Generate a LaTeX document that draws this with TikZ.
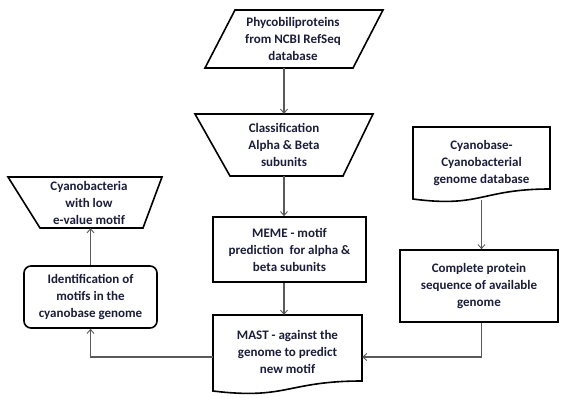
\documentclass[tikz,border=0pt]{standalone}
\usepackage{fontspec}
\setmainfont{Carlito}
\usetikzlibrary{arrows.meta,calc}
\definecolor{txtc}{HTML}{1B1E3A}
\definecolor{linec}{HTML}{5A5A5A}
\begin{document}
\begin{tikzpicture}[x=1pt,y=-1pt,
  lbl/.style={text=txtc, font=\bfseries\fontsize{13}{17}\selectfont, align=center, inner sep=0pt, rectangle},
  shp/.style={draw=black, line width=1.6pt, line join=miter},
  conn/.style={draw=linec, line width=1.1pt, -{Straight Barb[length=4pt,width=7pt,line width=0.9pt]}}
]
\fill[white] (0,0) rectangle (563,397);
\useasboundingbox (0,0) rectangle (563,397);

% Phycobiliproteins (parallelogram)
\draw[shp] (235,10) -- (383,10) -- (353,68) -- (205,68) -- cycle;
\node[lbl, minimum width=178pt, minimum height=58pt] (phy) at (293,39) {Phycobiliproteins\\from NCBI RefSeq\\database};

% Classification (trapezoid)
\draw[shp] (195,114) -- (373,114) -- (343,176) -- (230,176) -- cycle;
\node[lbl, minimum width=178pt, minimum height=62pt] (cls) at (284,145) {Classification\\Alpha \& Beta\\subunits};

% Cyanobacteria (trapezoid)
\draw[shp] (8,177) -- (162,177) -- (143,228) -- (40,228) -- cycle;
\node[lbl, minimum width=150pt, minimum height=51pt] (cyano) at (89,202.5) {Cyanobacteria\\with low\\e-value motif};

% Cyanobase (document)
\draw[shp] (413,127) -- (550,127) -- (550,189) .. controls (481,189) and (481,208) .. (413,199) -- cycle;
\node[lbl, minimum width=137pt, minimum height=73pt] (cyb) at (481.5,163.5) {Cyanobase-\\Cyanobacterial\\genome database};

% MEME
\node[lbl, shp, minimum width=153pt, minimum height=65pt] (meme) at (289.5,249.5) {MEME\ - motif\\prediction\ \ for alpha \&\\beta subunits};

% Identification
\node[lbl, shp, rounded corners=7pt, minimum width=133pt, minimum height=62pt] (ident) at (90.5,297) {Identification\ of\\motifs in the\\cyanobase genome};

% Complete protein
\node[lbl, shp, minimum width=158pt, minimum height=72pt] (comp) at (479,286) {Complete\ protein\\sequence\ of available\\genome};

% MAST (document)
\draw[shp] (213,315) -- (362,315) -- (362,381) .. controls (287,381) and (287,400) .. (213,391) -- cycle;
\node[lbl, minimum width=149pt, minimum height=74pt] (mast) at (287.5,352) {MAST\ - against the\\genome to predict\\new motif};

% connectors
\draw[conn] (phy.south -| cls.north) -- (cls.north);
\draw[conn] (cls.south) -- (cls.south |- meme.north);
\draw[conn] (meme.south -| cls.south) -- (cls.south |- mast.north);
\draw[conn] (cyb.south) -- (cyb.south |- comp.north);
\draw[conn] (comp.south -| cyb.south) |- ($(mast.east)+(0,5)$);
\draw[conn] ($(mast.west)+(0,5)$) -| (ident.south);
\draw[conn] (ident.north) -- (ident.north |- cyano.south);
\end{tikzpicture}
\end{document}
